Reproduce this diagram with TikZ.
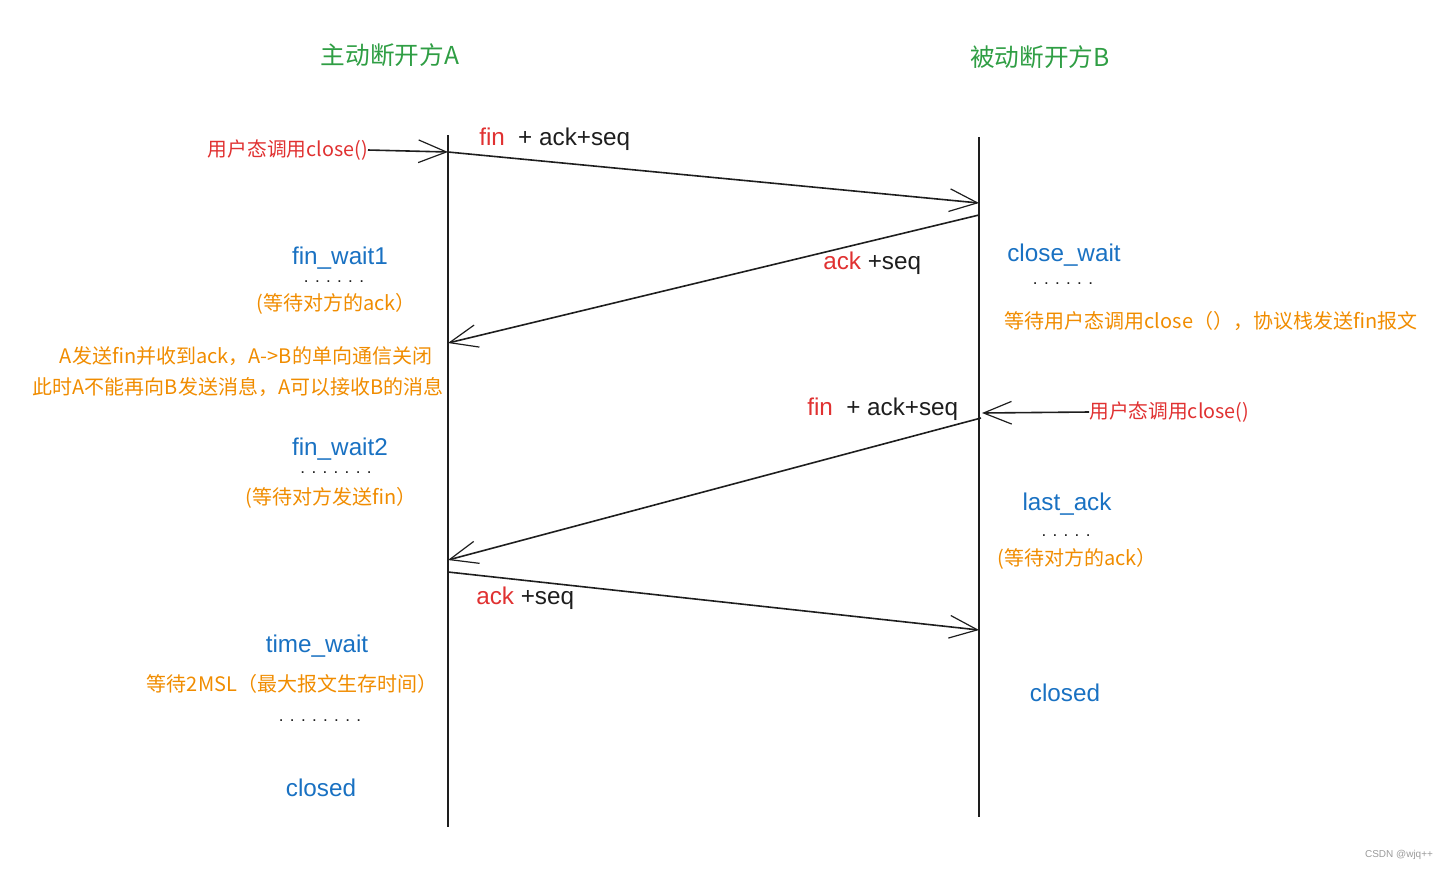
\documentclass[tikz,border=0pt]{standalone}
\usepackage{fontspec}
\setmainfont{Noto Sans CJK SC}
\newfontfamily\latfont{Liberation Sans}
\usetikzlibrary{arrows.meta}
\definecolor{ink}{HTML}{1E1E1E}
\definecolor{xgreen}{HTML}{2F9E44}
\definecolor{xred}{HTML}{E03131}
\definecolor{xblue}{HTML}{1971C2}
\definecolor{xorange}{HTML}{F08C00}
\definecolor{wm}{HTML}{9A9A9A}
\tikzset{
  lifeline/.style={draw=ink, line width=1.4pt},
  msg/.style={draw=ink, line width=1.2pt, -{Straight Barb[length=21pt,width=17pt,line width=0.9pt]}},
  title/.style={inner sep=0pt, text=xgreen, font=\fontsize{18.5}{22}\selectfont},
  stateA/.style={inner sep=0pt, text=xblue, font=\latfont\fontsize{18.2}{22}\selectfont},
  note/.style={inner sep=0pt, text=xorange, font=\fontsize{15}{18}\selectfont},
  callnote/.style={inner sep=0pt, text=xred, font=\fontsize{14.8}{18}\selectfont},
  msglabel/.style={inner sep=0pt, text=ink, font=\latfont\fontsize{18.2}{22}\selectfont},
  dots/.style={inner sep=0pt, text=ink, font=\latfont\fontsize{12.8}{16}\selectfont},
}
\begin{document}
\begin{tikzpicture}[x=0.75pt,y=-0.75pt]
\useasboundingbox (0,0) rectangle (1449,869);
% lifelines
\coordinate (Atop) at (448,135);
\coordinate (Abot) at (448,827);
\coordinate (Btop) at (979,137);
\coordinate (Bbot) at (979,817);
\draw[lifeline] (Atop) -- (Abot);
\draw[lifeline] (Btop) -- (Bbot);
% message endpoints
\coordinate (A1) at (448,152);
\coordinate (B1) at (979,203);
\coordinate (B2) at (979,215);
\coordinate (A2) at (448,343);
\coordinate (B3) at (981,418);
\coordinate (B3c) at (982,413);
\coordinate (A3) at (448,560);
\coordinate (A4) at (448,572);
\coordinate (B4) at (979,630);
% titles
\node[title] (tA) at (390,55) {主动断开方A};
\node[title] (tB) at (1040,57) {被动断开方B};
% close calls
\node[callnote, anchor=east] (closeA) at (368,150) {用户态调用close()};
\node[callnote, anchor=west] (closeB) at (1089,412) {用户态调用close()};
\draw[msg] (closeA.east) -- (A1);
\draw[msg] (closeB.west) -- (B3c);
% messages
\draw[msg] (A1) -- (B1);
\draw[msg] (B2) -- (A2);
\draw[msg] (B3) -- (A3);
\draw[msg] (A4) -- (B4);
% message labels
\node[msglabel, anchor=west] (m1) at (479,139) {\textcolor{xred}{fin}\hspace{0.55em}+ ack+seq};
\node[msglabel, anchor=west] (m2) at (823,263) {\textcolor{xred}{ack} +seq};
\node[msglabel, anchor=west] (m3) at (807,409) {\textcolor{xred}{fin}\hspace{0.55em}+ ack+seq};
\node[msglabel, anchor=west] (m4) at (476,598) {\textcolor{xred}{ack} +seq};
% A side
\node[stateA] (fw1) at (340,258) {fin\_wait1};
\node[dots] (d1) at (334,282) {. . . . . .};
\node[note] (n1) at (336,304) {(等待对方的ack）};
\node[note] (n2) at (246,356) {A发送fin并收到ack，A->B的单向通信关闭};
\node[note] (n3) at (238,387) {此时A不能再向B发送消息，A可以接收B的消息};
\node[stateA] (fw2) at (340,449) {fin\_wait2};
\node[dots] (d2) at (336,473) {. . . . . . .};
\node[note] (n4) at (331,498) {(等待对方发送fin）};
\node[stateA] (tw) at (317,646) {time\_wait};
\node[note] (n5) at (292,684) {等待2MSL（最大报文生存时间）};
\node[dots] (d3) at (320,721) {. . . . . . . .};
\node[stateA] (clA) at (321,788) {closed};
% B side
\node[stateA] (cw) at (1064,255) {close\_wait};
\node[dots] (d4) at (1063,284) {. . . . . .};
\node[note] (n6) at (1211,321) {等待用户态调用close（），协议栈发送fin报文};
\node[stateA] (la) at (1067,504) {last\_ack};
\node[dots] (d5) at (1066,536) {. . . . .};
\node[note] (n7) at (1077,559) {(等待对方的ack）};
\node[stateA] (clB) at (1065,693) {closed};
% watermark
\node[inner sep=0pt, text=wm, font=\latfont\fontsize{7.5}{9}\selectfont] (wmk) at (1399,855) {CSDN @wjq++};
\end{tikzpicture}
\end{document}
